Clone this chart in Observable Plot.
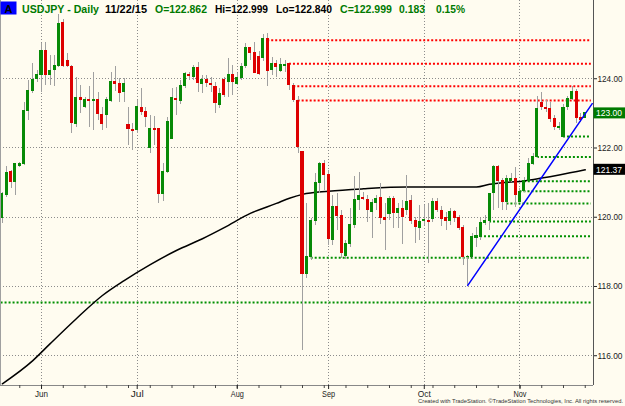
<!DOCTYPE html>
<html><head><meta charset="utf-8">
<script src="https://cdn.jsdelivr.net/npm/d3@7"></script>
<script src="https://cdn.jsdelivr.net/npm/@observablehq/plot@0.6"></script>
<style>
html,body{margin:0;padding:0;background:#fffcf0;overflow:hidden;}
#chart{width:625px;height:406px;overflow:hidden;position:relative;}
</style></head><body><div id="chart"></div>
<script>
// USDJPY daily bars, index 0 = 19 May 2015 ... index 134 = 22 Nov 2015 session
const opens = [119.98,120.65,121.30,121.01,121.47,121.54,123.08,123.66,123.98,124.10,
124.79,124.12,124.24,124.36,125.60,124.50,124.33,122.68,123.43,123.17,
123.40,123.37,123.40,122.94,122.94,123.37,123.92,123.86,123.63,122.65,
122.53,122.51,123.16,123.03,121.99,122.55,122.54,120.68,121.32,122.27,
123.42,123.37,123.78,124.12,124.04,124.30,123.86,123.95,123.86,123.75,
123.23,123.95,123.92,124.12,123.86,124.01,124.36,124.88,124.73,124.62,
124.59,125.14,124.24,124.43,124.22,124.38,124.43,123.78,123.37,121.87,
118.37,118.84,119.90,121.00,121.55,121.21,119.33,120.31,120.05,118.89,
119.24,119.79,120.51,120.57,120.51,120.16,120.40,120.57,119.99,120.08,
120.54,120.11,120.25,120.22,120.48,119.90,119.70,119.89,119.90,119.96,
120.43,120.19,119.99,119.88,120.14,119.99,119.70,118.84,118.84,119.39,
119.44,119.82,119.89,120.69,121.45,121.06,120.43,121.06,121.11,120.43,
120.75,121.06,121.54,121.73,123.29,123.16,123.14,122.85,122.57,122.31,
123.18,123.42,123.63,122.87,122.862];
const highs = [120.72,121.47,121.35,121.55,121.59,123.32,123.95,124.44,124.24,125.02,
125.05,124.67,124.67,125.86,125.71,124.73,124.38,124.04,123.81,123.46,
123.78,124.18,123.60,123.17,123.46,124.18,124.36,124.01,124.01,123.17,
122.71,123.37,123.72,123.17,122.94,122.91,122.56,121.56,122.89,123.72,
123.75,123.95,124.19,124.18,124.38,124.48,124.10,124.10,124.05,123.90,
123.72,124.05,124.59,124.38,124.15,124.44,125.03,124.91,125.06,124.80,
125.28,125.30,124.62,124.53,124.59,124.53,124.43,123.86,123.49,121.87,
120.40,119.96,121.26,121.58,121.64,121.35,120.63,120.69,120.19,119.33,
120.25,121.18,121.30,120.71,120.63,120.51,120.63,120.97,120.40,120.60,
120.60,120.40,120.48,121.21,120.63,119.99,120.34,120.34,120.40,120.54,
120.54,120.31,120.14,120.25,120.19,120.05,119.76,118.89,119.53,119.70,
119.96,120.05,120.69,121.49,121.49,121.12,121.21,121.26,121.45,120.83,
121.15,121.70,121.84,123.49,123.61,123.37,123.31,122.94,122.74,123.26,
123.49,123.78,123.69,123.00,122.999];
const lows = [119.81,120.58,120.82,120.63,121.45,121.49,122.79,123.58,123.89,123.60,
123.81,123.81,123.78,124.33,124.33,124.33,122.42,122.59,123.00,123.14,
122.59,122.51,122.79,122.51,122.56,123.31,123.63,123.31,123.31,122.07,
121.93,122.42,122.94,122.60,121.85,122.07,120.40,120.45,121.27,122.24,
122.94,123.26,123.72,123.95,123.95,123.61,123.58,123.75,123.60,122.99,
123.14,123.46,123.46,123.52,123.81,123.95,124.30,124.53,124.15,124.10,
124.51,123.78,124.10,124.05,124.18,124.18,123.66,123.32,121.84,116.15,
118.23,118.75,119.76,120.69,120.77,119.18,119.18,119.62,118.81,118.78,
119.12,119.67,120.19,120.48,119.85,119.39,120.19,119.79,119.04,119.90,
119.67,119.67,119.21,120.05,119.79,119.24,119.33,119.76,118.66,119.85,
120.14,119.73,119.62,119.76,119.85,119.62,118.60,118.03,118.81,119.12,
119.33,119.76,119.62,120.19,120.25,120.19,120.19,121.00,120.29,120.40,
120.71,121.03,121.49,121.70,123.08,123.03,122.74,122.51,122.51,122.28,
123.08,123.37,122.70,122.74,122.840];
const closes = [120.66,121.28,121.03,121.54,121.54,123.08,123.66,123.95,124.12,124.79,
124.10,124.21,124.36,125.57,124.36,124.36,122.71,123.43,123.40,123.40,
123.37,123.40,122.97,122.68,123.40,123.92,123.86,123.60,123.86,122.56,
122.50,123.17,123.03,122.89,122.54,122.53,120.68,121.30,122.75,123.43,
123.39,123.78,124.15,124.07,124.30,123.89,123.95,123.89,123.81,123.29,
123.55,123.52,124.12,123.92,124.01,124.33,124.88,124.73,124.18,124.15,
125.14,124.21,124.43,124.34,124.40,124.40,123.81,123.39,122.04,118.37,
118.86,119.90,121.00,121.55,121.21,119.36,120.31,120.05,118.98,119.24,
119.79,120.51,120.60,120.54,120.22,120.40,120.54,119.99,119.93,120.54,
120.11,120.25,120.02,120.45,119.90,119.73,119.85,119.92,119.85,120.43,
120.22,119.96,119.90,120.16,119.99,119.70,118.84,118.86,119.44,119.47,
119.82,119.90,120.66,121.45,121.06,120.43,121.11,121.11,120.63,120.72,
121.06,121.54,121.73,123.14,123.18,123.13,122.85,122.60,122.62,123.15,
123.42,123.61,122.87,122.81,122.999];

// 200-day moving average (read at selected bars)
const maBars   = [0,7,11,17,23,28,34,40,46,51,57,63,66,69,75,83,93,109,112,116,120,124,128,134];
const maValues = [115.19,115.86,116.35,117.07,117.74,118.17,118.63,119.04,119.38,119.70,120.11,120.40,120.55,120.66,120.75,120.82,120.87,120.87,120.95,121.01,121.05,121.13,121.22,121.37];

// horizontal levels
const resistanceLevels = [125.11,124.43,123.78,123.37];
const resistanceFrom   = [61,66,67,68];
const supportLevels = [122.33,121.74,121.04,120.75,120.40,119.88,119.45,118.83,117.54];
const supportFrom   = [129,123,120,119,116,112,109,71,-0.3];
const levelsTo = 135.4;

// trend line
const trendBars = [107,135.6];
const trendValues = [118.03,123.28];

// axes
const monthBars = [9,31,54,75,97,119];
const monthLabels = ["Jun","Jul","Aug","Sep","Oct","Nov"];
const weekBars = d3.range(4,135,5);
const priceTicks = [116,118,120,122,124];

const lastClose = 122.999;
const lastMA = 121.37;

const bars = opens.map((o,i)=>({i, open:o, high:highs[i], low:lows[i], close:closes[i], up: closes[i] >= o}));
const ma = maBars.map((b,k)=>({i:b, v:maValues[k]}));
const res = resistanceLevels.map((v,k)=>({v, from:resistanceFrom[k]}));
const sup = supportLevels.map((v,k)=>({v, from:supportFrom[k]}));
const trend = trendBars.map((b,k)=>({i:b, v:trendValues[k]}));

const xDom = [-0.43,135.9];
const yDom = [115.14,126.26];

const chart = Plot.plot({
  width:625, height:406,
  marginLeft:0, marginRight:32, marginTop:0, marginBottom:21,
  style:{background:"#fffcf0", fontFamily:"'Liberation Sans', Arial, sans-serif", color:"#222", overflow:"visible"},
  x:{domain:xDom, axis:null},
  y:{domain:yDom, axis:null},
  marks:[
    Plot.ruleY(priceTicks, {stroke:"#8c8c8c", strokeDasharray:"1,2", shapeRendering:"crispEdges"}),
    Plot.ruleX(monthBars, {stroke:"#8c8c8c", strokeDasharray:"1,2", shapeRendering:"crispEdges"}),
    Plot.ruleY(sup, {y:"v", x1:"from", x2:()=>levelsTo, stroke:"#009000", strokeWidth:2, strokeDasharray:"2,2"}),
    Plot.ruleY(res, {y:"v", x1:"from", x2:()=>levelsTo, stroke:"#ff0000", strokeWidth:2, strokeDasharray:"2,2"}),
    Plot.line(ma, {x:"i", y:"v", curve:"monotone-x", stroke:"#000", strokeWidth:1.5}),
    Plot.ruleX(bars, {x:"i", y1:"low", y2:"high", stroke:"#a0a0a0", shapeRendering:"crispEdges"}),
    Plot.rect(bars, {x1:d=>d.i-0.35, x2:d=>d.i+0.35, y1:"open", y2:"close",
      fill:d=>d.up ? "#078a07" : "#dd0000", insetTop:-0.5, insetBottom:-0.5, shapeRendering:"crispEdges"}),
    Plot.line(trend, {x:"i", y:"v", stroke:"#0000ff", strokeWidth:1.5}),
    Plot.ruleX([xDom[0]], {stroke:"#a0a0a0"}),
    Plot.ruleX([xDom[1]], {stroke:"#555"}),
    Plot.ruleY([yDom[0]], {stroke:"#888"}),
    Plot.axisY({anchor:"right", ticks:priceTicks, tickFormat:d=>d.toFixed(2), tickSize:3, tickPadding:1, fontSize:9, color:"#222"}),
    Plot.axisX({ticks:weekBars, tickFormat:()=>"", tickSize:3, color:"#444"}),
    Plot.axisX({ticks:monthBars, tickFormat:d=>monthLabels[monthBars.indexOf(d)], tickSize:4, tickPadding:1, fontSize:9, color:"#222"})
  ]
});
document.getElementById("chart").appendChild(chart);

const svg = d3.select(chart);
const ys = chart.scale("y");
const font = "'Liberation Sans', Arial, sans-serif";

// squeeze y tick labels to the narrow width of the original
svg.selectAll("g[aria-label='y-axis tick label'] text")
  .attr("textLength", 25).attr("lengthAdjust", "spacingAndGlyphs");
svg.selectAll("g[aria-label='x-axis tick label'] text")
  .attr("textLength", function(){ return this.textContent.length ? 13 : null; })
  .attr("lengthAdjust", "spacingAndGlyphs");

// header
svg.append("rect").attr("x",0.5).attr("y",1.5).attr("width",16).attr("height",13).attr("fill","#0000ff");
svg.append("text").attr("x",8.5).attr("y",12.5).attr("text-anchor","middle").attr("font-family",font)
  .attr("font-size",11).attr("font-weight","bold").attr("fill","#000").text("A");
const green = "#007a00";
const header = [
  {t:"USDJPY - Daily", x:22, w:77, c:green},
  {t:"11/22/15", x:105, w:42, c:"#000"},
  {t:"O=122.862", x:155, w:52, c:green},
  {t:"Hi=122.999", x:215, w:53, c:"#000"},
  {t:"Lo=122.840", x:276, w:56, c:"#000"},
  {t:"C=122.999", x:340, w:52, c:green},
  {t:"0.183", x:399, w:26, c:green},
  {t:"0.15%", x:436, w:29, c:green}
];
header.forEach(h=>{
  svg.append("text").attr("x",h.x).attr("y",12.5).attr("text-anchor","start").attr("font-family",font).attr("font-size",11.5)
    .attr("font-weight","bold").attr("fill",h.c).attr("textLength",h.w).attr("lengthAdjust","spacingAndGlyphs").text(h.t);
});

// value flags on price axis
function flag(v, bg, label){
  const y = ys.apply(v);
  svg.append("rect").attr("x",593.5).attr("y",y-5.5).attr("width",32).attr("height",11).attr("fill",bg);
  svg.append("text").attr("x",596).attr("y",y+3.5).attr("text-anchor","start").attr("font-family",font).attr("font-size",9)
    .attr("fill","#fff").attr("textLength",26).attr("lengthAdjust","spacingAndGlyphs").text(label);
}
flag(lastClose, "#007a00", lastClose.toFixed(2));
flag(lastMA, "#000", lastMA.toFixed(2));

// footer
svg.append("text").attr("x",623).attr("y",403).attr("text-anchor","end").attr("font-family",font)
  .attr("font-size",5.8).attr("fill","#333").attr("textLength",205).attr("lengthAdjust","spacingAndGlyphs")
  .text("Created with TradeStation. ©TradeStation Technologies, Inc. All rights reserved.");
</script></body></html>
